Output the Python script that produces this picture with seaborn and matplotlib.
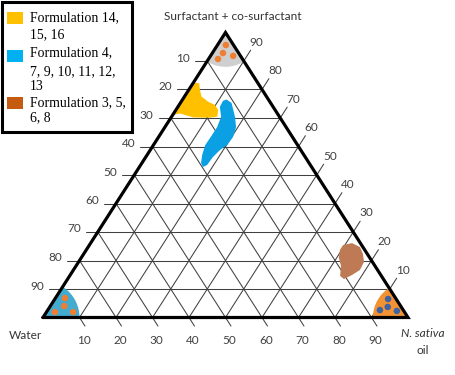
import numpy as np
import pandas as pd
import matplotlib.pyplot as plt
import seaborn as sns
from matplotlib.patches import Rectangle
from matplotlib.transforms import ScaledTranslation

# compositions in % : (oil, surfactant + co-surfactant), water = rest
yellow_oil = [0, 1.7, 3.1, 4.7, 7.4, 9.8, 11.6, 12.5, 10.7, 6.1, 1.7, 0]
yellow_surf = [82.4, 82.2, 79.8, 77.5, 75.7, 74.6, 72.8, 70.5, 70.1, 70.2, 71.6, 71.0]

blue_oil = [12, 14, 17.4, 19.5, 20.4, 20.2, 19.1, 18.4, 18.2, 17.4, 16.2, 15.1,
            14.2, 14.3, 14.3, 13.6, 11.5, 11.3]
blue_surf = [76.5, 75.3, 70.4, 66.8, 63.3, 60.5, 58.8, 56.3, 53.5, 52.8, 54.2, 57.0,
             60.5, 64.0, 66.8, 70.4, 73.9, 76.0]

brown_oil = [69.5, 71.6, 74.5, 76.5, 78.2, 78.5, 77.2, 75.7, 74.1, 72.6, 70.6, 69.5]
brown_surf = [25.4, 26.1, 24.7, 22.3, 19.5, 16.7, 14.9, 13.5, 14.6, 18.1, 20.9, 23.7]

# formulation points in the corner regions
top_pts_oil = [2.3, 2.9, 6.2, 2.6]
top_pts_surf = [95.6, 92.8, 91.8, 90.7]
water_pts_oil = [2.3, 3.8, 2.6, 7.3]
water_pts_surf = [1.9, 4.0, 6.8, 1.9]
oil_pts_oil = [91.3, 92.6, 91.0, 95.8]
oil_pts_surf = [6.5, 3.7, 2.6, 2.3]

# size of the corner regions, % of the base
cap_radius = [9.4, 10.0, 9.6]  # top, water, oil

levels = [10, 20, 30, 40, 50, 60, 70, 80, 90]
left_labels = ['90', '80', '70', '60', '50', '40', '30', '20', '10']
bottom_labels = ['10', '20', '30', '40', '50', '60', '70', '80', '90']
right_labels = ['90', '80', '70', '60', '50', '40', '30', '20', '10']

legend_labels = [['Formulation 14,', '15, 16'],
                 ['Formulation 4,', '7, 9, 10, 11, 12,', '13'],
                 ['Formulation 3, 5,', '6, 8']]
legend_colors = ['#FFC000', '#00B0F0', '#C55A11']

H = 285 / 365


def tern(oil, surf):
    a = np.asarray(oil, dtype=float) / 100
    b = np.asarray(surf, dtype=float) / 100
    return a + 0.5 * b, b * H


def cap(vx, vy, ang0, ang1, r):
    t = np.linspace(ang0, ang1, 40)
    xs = np.concatenate([[vx], vx + r * np.cos(t)])
    ys = np.concatenate([[vy], vy + r * np.sin(t)])
    return xs, ys


sns.set_style('white')
plt.rcParams['font.family'] = ['Lato', 'DejaVu Sans']

fig = plt.figure(figsize=(4.55, 3.75), dpi=100)
ax = fig.add_axes([0, 0, 1, 1])
ax.set_xlim(-43 / 365, 412 / 365)
ax.set_ylim(-57.5 / 365, 317.5 / 365)
ax.axis('off')

grid_kw = dict(color='#404040', lw=0.75, zorder=1)
for lv in levels:
    # horizontal lines (constant surfactant), tick out to the left
    x, y = tern([-3.3, 100 - lv], [lv, lv])
    ax.plot(x, y, **grid_kw)
    # lines of constant oil, tick out past the right edge
    x, y = tern([lv, lv], [0, 100 - lv + 3.8])
    ax.plot(x, y, **grid_kw)
    # lines of constant water, tick out below the base
    x, y = tern([0, lv + 3.0], [lv, -3.0])
    ax.plot(x, y, **grid_kw)

tick_kw = dict(textcoords='offset pixels', ha='center', va='center',
               fontsize=8.5, color='#404040')
for lv, lab in zip(levels, left_labels):
    ax.annotate(lab, tern(0, lv), xytext=(-24, 3), **tick_kw)
for lv, lab in zip(levels, bottom_labels):
    ax.annotate(lab, tern(lv, 0), xytext=(4, -23.5), **tick_kw)
for lv, lab in zip(levels, right_labels):
    ax.annotate(lab, tern(lv, 100 - lv), xytext=(13, 19), **tick_kw)

# corner regions
ang = np.arctan2(H, 0.5)
xs, ys = cap(0.5, H, -np.pi + ang, -ang, cap_radius[0] / 100)
ax.fill(xs, ys, color='#CFCFCF', lw=0, zorder=2)
xs, ys = cap(0, 0, 0, ang, cap_radius[1] / 100)
ax.fill(xs, ys, color='#43AAD0', lw=0, zorder=2)
xs, ys = cap(1, 0, np.pi - ang, np.pi, cap_radius[2] / 100)
ax.fill(xs, ys, color='#F39232', lw=0, zorder=2)

# formulation regions
for o, s, c in [(yellow_oil, yellow_surf, '#FFC000'),
                (blue_oil, blue_surf, '#0BA0E3'),
                (brown_oil, brown_surf, '#BD7A55')]:
    x, y = tern(o, s)
    ax.fill(x, y, color=c, lw=0, zorder=2)

# triangle
x, y = tern([0, 100, 0, 0], [0, 0, 100, 0])
ax.plot(x, y, color='black', lw=2.3, zorder=3, solid_joinstyle='miter')

pts = pd.DataFrame({
    'oil': top_pts_oil + water_pts_oil + oil_pts_oil,
    'surf': top_pts_surf + water_pts_surf + oil_pts_surf,
    'kind': ['o'] * 8 + ['b'] * 4,
})
pts['x'], pts['y'] = tern(pts['oil'], pts['surf'])
sns.scatterplot(data=pts, x='x', y='y', hue='kind',
                palette={'o': '#EE7E32', 'b': '#3F62A0'},
                s=22, edgecolor='none', legend=False, ax=ax, zorder=4)

ax.text(*tern(0, 100), 'Surfactant + co-surfactant', ha='center', va='center',
        fontsize=8.6, color='#333333',
        transform=ax.transData + ScaledTranslation(0.075, 0.16, fig.dpi_scale_trans))
ax.annotate('Water', tern(0, 0), xytext=(-18, -18), textcoords='offset pixels',
            ha='center', va='center', fontsize=8.6, color='#333333')
ax.annotate('N. sativa', tern(100, 0), xytext=(15, -16), textcoords='offset pixels',
            ha='center', va='center', fontsize=8.6, color='#333333', style='italic')
ax.annotate('oil', tern(100, 0), xytext=(15, -33), textcoords='offset pixels',
            ha='center', va='center', fontsize=8.6, color='#333333')

# legend box
W, Hf = 455, 375
fig.patches.append(Rectangle((1.5 / W, 1 - 131.5 / Hf), 130 / W, 130 / Hf,
                             transform=fig.transFigure, fill=True, facecolor='white',
                             edgecolor='black', lw=2.2, zorder=5))
sq_y = [12, 50, 97]
line_y = [[18, 35], [53, 72, 87], [103, 118]]
for col, sy, labs, ly in zip(legend_colors, sq_y, legend_labels, line_y):
    fig.patches.append(Rectangle((7.3 / W, 1 - (sy + 11.6) / Hf), 15.4 / W, 11.6 / Hf,
                                 transform=fig.transFigure, facecolor=col,
                                 edgecolor='none', zorder=6))
    for lab, yy in zip(labs, ly):
        fig.text(30 / W, 1 - yy / Hf, lab, ha='left', va='center', fontsize=9.9,
                 family='Liberation Serif', color='black', zorder=7)

fig.savefig('out.png', dpi=100)
